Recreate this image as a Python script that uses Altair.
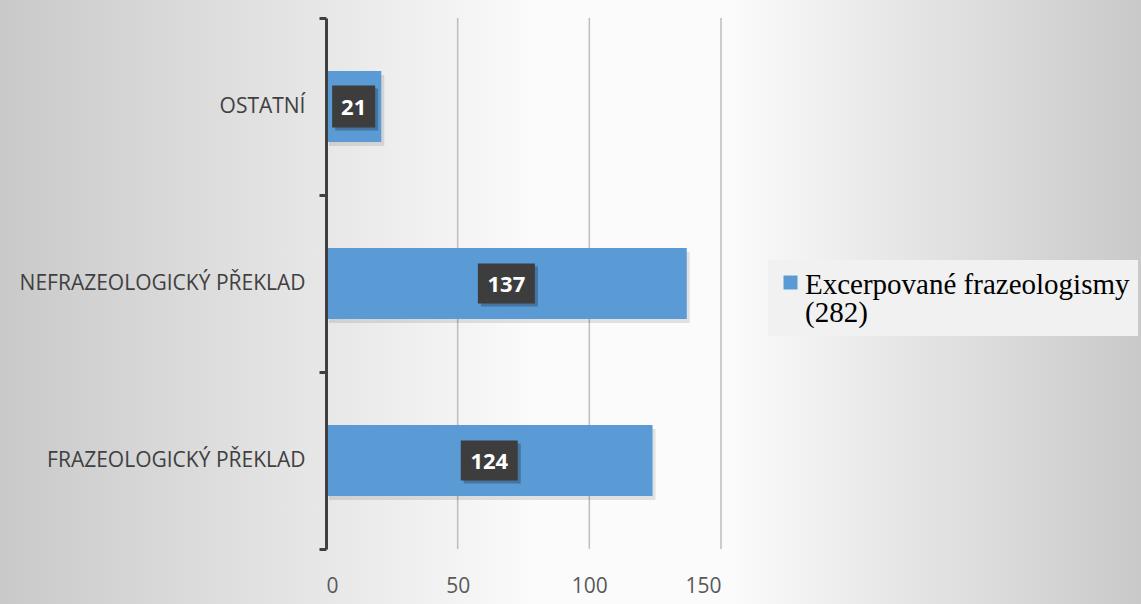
import altair as alt
import pandas as pd

categories = ["OSTATNÍ", "NEFRAZEOLOGICKÝ PŘEKLAD", "FRAZEOLOGICKÝ PŘEKLAD"]
values = [21, 137, 124]
series_name = "Excerpované frazeologismy (282)"
x_ticks = [0, 50, 100, 150]
grid_values = [50, 100, 150]

df = pd.DataFrame({"category": categories, "value": values, "series": [series_name] * 3})
grid_df = pd.DataFrame({"g": grid_values})
bg_df = pd.DataFrame({"a": [0]})

W, H = 395, 531
PL, PT = 326, 18
PR = 1141 - PL - W
PB = 604 - PT - H
LABEL_DY = 11  # shared guide-label dy (used to place legend text); compensated on axes

y_axis = alt.Axis(
    title=None, zindex=1, domainColor="#404040", domainWidth=3,
    tickColor="#404040", tickWidth=3, tickSize=7, tickBand="extent",
    labelFont="Open Sans", labelFontSize=21, labelColor="#404040",
    labelPadding=14, labelLimit=500, labelOffset=-LABEL_DY,
)
y_scale = alt.Scale(paddingInner=0, paddingOuter=0)
x_scale = alt.Scale(domain=[0, 150], nice=False)
x_axis = alt.Axis(
    title=None, values=x_ticks, domain=False, ticks=False, grid=False, zindex=1,
    labelFont="Open Sans", labelFontSize=21, labelColor="#595959",
    labelPadding=26 - LABEL_DY,
)


def X(field):
    return alt.X(field, scale=x_scale, axis=x_axis)


def Y():
    return alt.Y("category:N", sort=categories, scale=y_scale, axis=y_axis)


gradient = {
    "gradient": "linear",
    "x1": 0, "y1": 0.5, "x2": 1, "y2": 0.5,
    "stops": [
        {"offset": 0, "color": "#c9c9c9"},
        {"offset": 0.47, "color": "#fbfbfb"},
        {"offset": 0.64, "color": "#fbfbfb"},
        {"offset": 1, "color": "#c9c9c9"},
    ],
}

bg = alt.Chart(bg_df).mark_rect(color=gradient).encode(
    x=alt.value(-PL), x2=alt.value(W + PR), y=alt.value(-PT), y2=alt.value(H + PB)
)

grid = alt.Chart(grid_df).mark_rule(color="#bdbdbd", strokeWidth=1.5).encode(x=X("g:Q"))

shadow = alt.Chart(df).mark_bar(
    color="#000000", opacity=0.10, height={"band": 0.4}, xOffset=3, yOffset=4
).encode(x=X("value:Q"), y=Y())

bars = alt.Chart(df).mark_bar(height={"band": 0.4}).encode(
    x=X("value:Q"),
    y=Y(),
    color=alt.Color(
        "series:N",
        scale=alt.Scale(range=["#5b9bd5"]),
        legend=alt.Legend(
            title=None, orient="none", legendX=442, legendY=242,
            fillColor="#f1f1f1", padding=8,
            symbolType="square", symbolSize=196, symbolStrokeWidth=0,
            labelFont="Liberation Serif", labelFontSize=29, labelColor="#000000",
            labelLimit=600, labelBaseline="alphabetic", labelOffset=0,
            labelExpr="split(replace(datum.label, ' (', '|('), '|')",
        ),
    ),
)

path2 = "M-1.024,-1L1.024,-1L1.024,1L-1.024,1Z"
path3 = "M-1.357,-0.952L1.357,-0.952L1.357,0.952L-1.357,0.952Z"

label_base = alt.Chart(df).transform_calculate(
    mid="datum.value / 2",
    digits="toString(length(toString(datum.value)))",
)

shape_enc = alt.Shape(
    "digits:N", scale=alt.Scale(domain=["2", "3"], range=[path2, path3]), legend=None
)

box_shadow = label_base.mark_point(
    filled=True, size=1764, color="#000000", opacity=0.25, xOffset=3, yOffset=3
).encode(x=X("mid:Q"), y=Y(), shape=shape_enc)

boxes = label_base.mark_point(filled=True, size=1764, color="#3d3d3d", opacity=1).encode(
    x=X("mid:Q"), y=Y(), shape=shape_enc
)

texts = label_base.mark_text(
    font="Open Sans", fontSize=22, fontWeight="bold", color="#ffffff", baseline="middle", dy=1
).encode(x=X("mid:Q"), y=Y(), text=alt.Text("value:Q"))

chart = alt.layer(bg, grid, shadow, bars, box_shadow, boxes, texts).properties(
    width=W, height=H,
    padding={"left": PL, "top": PT, "right": PR, "bottom": PB},
    autosize=alt.AutoSizeParams(type="none"),
    background="#ffffff",
).configure(
    style={"guide-label": {"lineHeight": 28, "dy": LABEL_DY}}
).configure_view(stroke=None)

chart.save("out.html", embed_options={"renderer": "svg", "actions": False})
